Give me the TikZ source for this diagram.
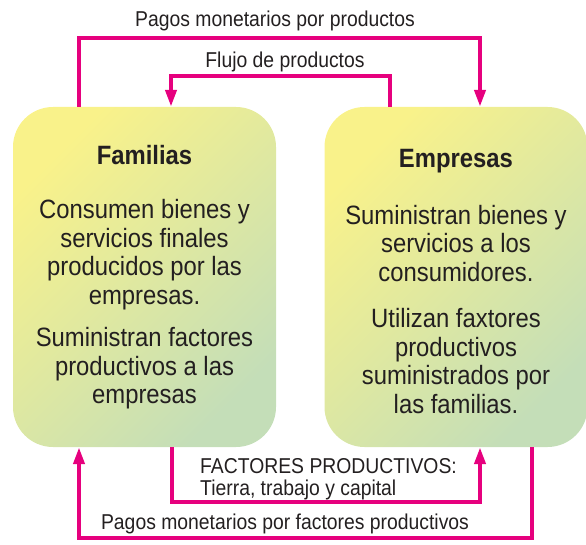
\documentclass[tikz,border=0pt]{standalone}
\usepackage{fontspec}
\setmainfont{Liberation Sans}[FakeStretch=0.9]
\usetikzlibrary{arrows.meta,calc}
\tikzset{>={Triangle[length=17pt,width=11pt]}}
\definecolor{flujo}{RGB}{230,0,126}
\definecolor{boxtop}{RGB}{249,242,138}
\definecolor{boxbot}{RGB}{196,222,184}
\definecolor{txt}{RGB}{35,31,32}
\tikzset{
  agente/.style={rounded corners=40pt,minimum width=263pt,minimum height=340pt,
    top color=boxtop,bottom color=boxbot,shading angle=45,align=center,
    text=txt,font=\fontsize{26.5}{28.5}\selectfont},
  flecha/.style={draw=flujo,line width=4pt},
  rotulo/.style={text=txt,font=\fontsize{21.5}{23}\selectfont,inner sep=0pt}
}

\begin{document}
\begin{tikzpicture}[x=1pt,y=1pt]
\useasboundingbox (0,0) rectangle (586,544);
% los dos agentes
\node[agente] (fam) at (144.5,267) {{\bfseries Familias}\\[26pt]
  Consumen bienes y\\ servicios finales\\ producidos por las\\ empresas.\\[14pt]
  Suministran factores\\ productivos a las\\ empresas};
\node[agente] (emp) at (456,267) {\rule{0pt}{27pt}{\bfseries Empresas}\\[28pt]
  Suministran bienes y\\ servicios a los\\ consumidores.\\[18pt]
  Utilizan faxtores\\ productivos\\ suministrados por\\ las familias.};

% flujos de arriba
\draw[flecha,->] ([xshift=-65.5pt]fam.north) -- ++(0,69) -| ([xshift=24pt]emp.north);
\draw[flecha,->] ([xshift=-66pt]emp.north) -- ++(0,31) -| ([xshift=26.5pt]fam.north);
\node[rotulo] (pagprod) at (275,523) {Pagos monetarios por productos};
\node[rotulo] (flujoprod) at (285,482) {Flujo de productos};

% flujos de abajo
\draw[flecha,->] ([xshift=27.5pt]fam.south) -- ++(0,-55) -| ([xshift=24pt]emp.south);
\draw[flecha,->] ([xshift=76pt]emp.south) -- ++(0,-91) -| ([xshift=-65.5pt]fam.south);
\node[rotulo,anchor=west] (factores) at (200,78) {FACTORES PRODUCTIVOS:};
\node[rotulo,anchor=west] (tierra) at (200,54) {Tierra, trabajo y capital};
\node[rotulo] (pagfact) at (285,20) {Pagos monetarios por factores productivos};
\end{tikzpicture}
\end{document}
